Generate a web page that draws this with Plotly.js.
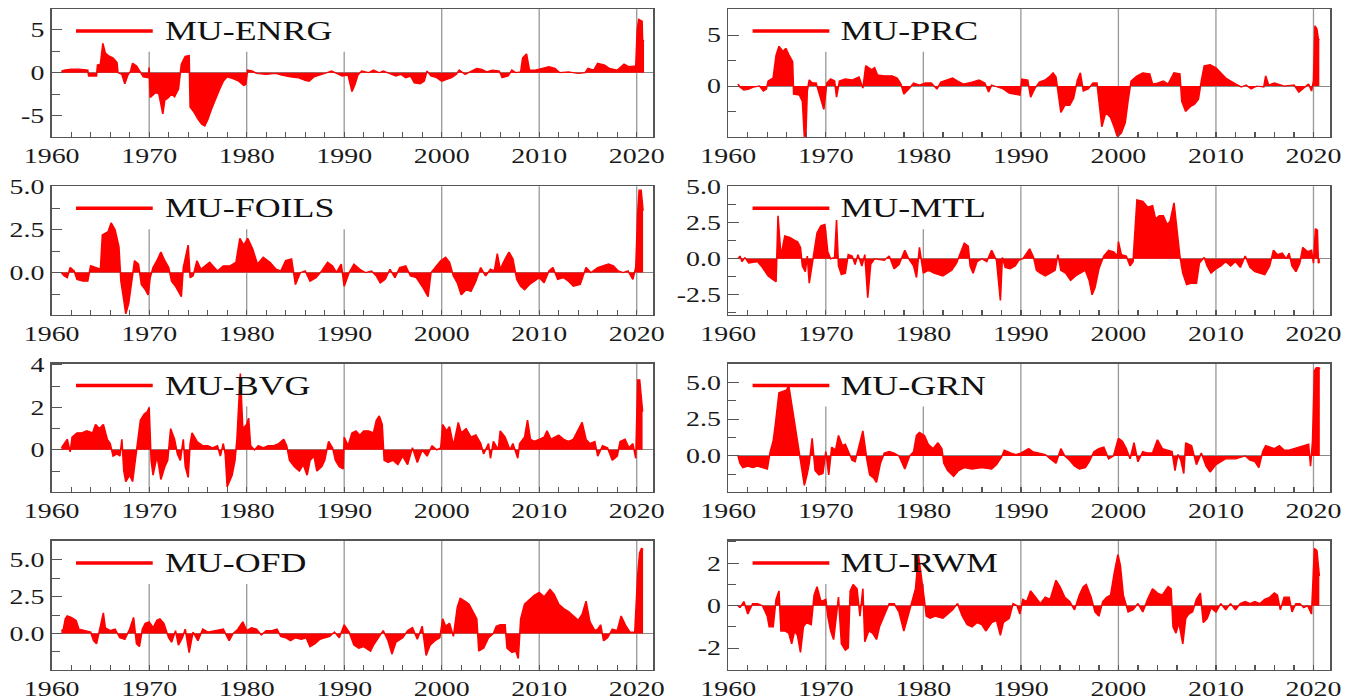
<!DOCTYPE html>
<html>
<head>
<meta charset="utf-8">
<script src="https://cdn.plot.ly/plotly-3.0.1.min.js"></script>
<style>
html,body{margin:0;padding:0;background:#fff;overflow:hidden;}
#wrap{width:1363px;height:700px;overflow:hidden;}
#plot{width:1025px;height:700px;transform:scaleX(1.3298);transform-origin:0 0;}
</style>
</head>
<body>
<div id="wrap"><div id="plot"></div></div>
<script>
// ---- data: [year, value] pairs ----
const enrg = [[1961.0,0.2],[1961.3,0.3],[1962.0,0.4],[1962.8,0.4],[1963.7,0.3],[1963.8,-0.4],[1964.6,-0.4],[1964.7,0.9],[1965.0,1.0],[1965.25,3.4],[1965.5,2.3],[1965.8,2.0],[1966.3,1.7],[1966.7,1.2],[1966.8,0.0],[1967.2,-0.2],[1967.5,-1.3],[1967.8,-0.3],[1968.1,0.2],[1968.3,1.1],[1968.7,0.8],[1969.0,0.3],[1969.4,-0.5],[1969.9,-0.6],[1970.0,0.6],[1970.1,-2.9],[1970.7,-2.3],[1971.0,-2.5],[1971.4,-4.8],[1971.6,-3.2],[1971.9,-3.0],[1972.3,-2.5],[1972.6,-2.8],[1973.0,-1.9],[1973.3,1.0],[1973.7,1.9],[1974.1,2.0],[1974.2,-4.0],[1974.6,-4.6],[1975.0,-5.4],[1975.4,-6.0],[1975.7,-6.2],[1976.0,-5.5],[1976.4,-4.2],[1976.8,-3.0],[1977.2,-2.0],[1977.6,-1.0],[1978.0,-0.5],[1978.6,-0.7],[1979.2,-1.0],[1979.7,-1.5],[1979.9,-1.4],[1980.1,0.3],[1980.6,0.2],[1981.0,-0.1],[1982.0,-0.2],[1983.0,-0.1],[1983.6,-0.3],[1984.5,-0.5],[1985.3,-0.6],[1986.0,-0.9],[1986.4,-1.0],[1986.9,-0.5],[1987.5,-0.3],[1988.0,-0.1],[1988.7,0.2],[1989.2,-0.1],[1989.8,-0.4],[1990.4,-0.3],[1990.8,-2.2],[1991.1,-1.4],[1991.4,-0.3],[1991.8,0.2],[1992.5,0.0],[1993.0,0.3],[1993.6,0.0],[1994.0,0.2],[1994.6,-0.1],[1995.3,-0.4],[1995.8,-0.2],[1996.3,-0.6],[1996.8,-0.4],[1997.2,-1.2],[1997.8,-1.3],[1998.2,-1.0],[1998.5,0.2],[1998.9,-0.4],[1999.5,-0.6],[2000.0,-1.0],[2000.5,-0.8],[2001.0,-0.6],[2001.5,-0.2],[2001.8,0.3],[2002.4,-0.2],[2003.0,0.2],[2003.6,0.5],[2004.1,0.4],[2004.6,0.1],[2005.2,0.3],[2005.9,0.2],[2006.2,-0.6],[2006.8,-0.4],[2007.2,0.3],[2007.6,0.0],[2008.1,0.1],[2008.3,1.7],[2008.7,2.2],[2009.0,0.3],[2009.6,0.3],[2010.3,0.5],[2011.0,0.7],[2011.6,0.5],[2012.1,0.0],[2013.0,0.1],[2014.0,-0.1],[2014.7,0.0],[2015.0,0.5],[2015.6,0.3],[2016.0,1.1],[2016.7,0.9],[2017.2,0.5],[2018.0,0.3],[2018.7,1.0],[2019.2,0.7],[2019.9,0.8],[2020.05,5.0],[2020.2,6.2],[2020.55,6.0],[2020.6,3.8],[2020.75,3.7]];

const prc = [[1961.0,0.2],[1961.2,-0.1],[1961.6,-0.4],[1962.1,-0.3],[1962.6,-0.1],[1963.2,0.0],[1963.6,-0.5],[1963.9,-0.3],[1964.1,0.5],[1964.6,0.8],[1964.9,3.0],[1965.2,3.9],[1965.6,3.4],[1965.9,3.7],[1966.2,3.1],[1966.6,2.4],[1966.7,-0.8],[1967.3,-0.9],[1967.6,-1.5],[1967.8,-5.0],[1967.95,-5.0],[1968.1,-0.5],[1968.3,0.6],[1968.6,0.3],[1969.0,0.3],[1969.3,-0.6],[1969.6,-1.6],[1969.8,-2.3],[1970.1,0.3],[1970.5,0.7],[1970.9,0.5],[1971.1,-1.1],[1971.4,0.5],[1972.0,0.7],[1972.7,0.6],[1973.4,0.9],[1973.8,-0.2],[1974.1,2.0],[1974.7,1.6],[1975.0,1.8],[1975.3,1.1],[1976.0,1.0],[1976.8,1.0],[1977.3,0.8],[1977.7,0.2],[1978.0,-0.8],[1978.5,-0.3],[1979.0,0.3],[1979.6,0.1],[1980.2,0.3],[1980.8,0.3],[1981.4,-0.3],[1981.8,0.4],[1982.4,0.6],[1983.0,0.8],[1983.5,0.5],[1984.1,0.2],[1985.0,0.4],[1985.7,0.6],[1986.3,0.3],[1986.7,-0.6],[1987.0,0.1],[1987.6,-0.1],[1988.2,-0.3],[1988.8,-0.7],[1989.4,-0.8],[1989.9,-0.9],[1990.1,0.7],[1990.7,0.6],[1991.0,-1.1],[1991.4,-0.3],[1991.9,0.4],[1992.5,0.6],[1993.0,1.0],[1993.3,1.3],[1993.6,0.9],[1993.8,-0.8],[1994.1,-2.6],[1994.5,-1.9],[1995.0,-1.9],[1995.4,-1.2],[1995.8,0.6],[1996.1,1.3],[1996.4,-0.5],[1996.9,-0.3],[1997.4,0.3],[1997.8,0.3],[1998.0,-1.2],[1998.3,-4.0],[1998.7,-2.6],[1999.2,-3.1],[1999.6,-4.1],[1999.9,-5.0],[2000.3,-4.6],[2000.7,-3.6],[2001.0,-1.4],[2001.3,0.5],[2001.9,1.0],[2002.5,1.3],[2003.2,1.2],[2003.5,0.2],[2004.0,0.3],[2004.6,0.5],[2005.1,0.2],[2005.7,1.3],[2006.3,1.2],[2006.5,-1.5],[2006.9,-2.5],[2007.4,-2.0],[2007.8,-1.8],[2008.2,-1.3],[2008.5,0.5],[2008.8,2.0],[2009.4,2.1],[2010.0,1.8],[2010.5,1.3],[2011.0,0.8],[2011.5,0.5],[2012.0,0.2],[2012.6,-0.1],[2013.1,0.1],[2013.6,-0.3],[2014.2,0.0],[2014.9,-0.1],[2015.1,1.0],[2015.4,0.1],[2016.0,0.3],[2017.0,0.0],[2018.0,0.1],[2018.5,-0.6],[2019.0,-0.2],[2019.5,0.2],[2019.8,-0.5],[2020.0,0.5],[2020.15,5.9],[2020.35,5.6],[2020.5,4.6],[2020.6,4.5]];

const foils = [[1961.0,0.0],[1961.3,-0.2],[1961.6,-0.3],[1961.9,0.3],[1962.3,0.1],[1962.6,-0.4],[1963.2,-0.5],[1963.7,-0.5],[1964.0,0.4],[1964.6,0.3],[1965.0,0.2],[1965.2,2.2],[1965.8,2.4],[1966.1,2.9],[1966.5,2.5],[1966.9,1.5],[1967.1,-0.5],[1967.4,-1.6],[1967.6,-2.4],[1967.9,-1.8],[1968.2,-0.6],[1968.5,0.7],[1968.9,0.5],[1969.2,-0.7],[1969.6,-1.0],[1969.9,-1.3],[1970.1,-0.3],[1970.4,0.3],[1970.8,0.7],[1971.2,1.2],[1971.6,0.7],[1972.0,0.3],[1972.3,-0.5],[1972.7,-0.8],[1973.3,-1.4],[1973.5,0.3],[1974.0,1.6],[1974.2,-0.3],[1974.5,-0.2],[1974.9,0.7],[1975.3,0.2],[1976.2,0.6],[1977.0,0.1],[1977.6,0.4],[1978.3,0.4],[1978.9,0.6],[1979.3,2.0],[1979.7,1.6],[1980.1,2.0],[1980.6,1.4],[1981.1,0.5],[1981.7,0.9],[1982.4,0.6],[1983.0,0.2],[1983.5,0.1],[1984.0,0.7],[1984.6,0.8],[1985.0,-0.7],[1985.5,0.0],[1986.0,0.1],[1986.5,-0.5],[1987.1,-0.3],[1987.7,0.1],[1988.3,0.6],[1988.8,0.4],[1989.2,0.0],[1989.7,0.5],[1990.0,-0.8],[1990.5,0.0],[1991.0,0.5],[1991.6,0.2],[1992.2,0.0],[1992.8,0.1],[1993.3,-0.2],[1993.7,-0.6],[1994.2,-0.4],[1994.7,0.2],[1995.2,-0.3],[1995.7,0.3],[1996.3,0.4],[1996.8,-0.2],[1997.4,-0.3],[1998.1,-0.9],[1998.6,-1.4],[1998.9,0.0],[1999.5,0.4],[1999.9,0.7],[2000.4,0.9],[2000.8,0.6],[2001.2,-0.2],[2001.6,-0.6],[2002.0,-1.3],[2002.5,-1.0],[2003.0,-1.1],[2003.5,-0.5],[2004.0,0.3],[2004.5,-0.2],[2005.0,0.2],[2005.4,0.1],[2005.7,1.1],[2006.0,0.2],[2006.5,0.8],[2006.9,1.2],[2007.3,0.8],[2007.7,-0.4],[2008.1,-0.8],[2008.5,-1.0],[2009.0,-0.7],[2009.5,-0.5],[2010.0,-0.3],[2010.5,-0.6],[2011.0,0.1],[2011.4,0.3],[2011.9,-0.4],[2012.5,-0.3],[2013.0,-0.5],[2013.5,-0.8],[2014.2,-0.7],[2014.8,0.3],[2015.3,0.0],[2016.0,0.3],[2016.6,0.4],[2017.1,0.5],[2017.6,0.4],[2018.1,0.1],[2018.6,0.0],[2019.1,0.1],[2019.6,-0.4],[2019.9,0.3],[2020.1,3.5],[2020.25,4.8],[2020.45,4.8],[2020.55,3.7],[2020.65,3.6]];

const mtl = [[1961.0,0.0],[1961.2,0.2],[1961.4,-0.2],[1961.7,0.1],[1962.1,-0.3],[1963.0,-0.2],[1963.5,-0.6],[1964.1,-1.2],[1964.5,-1.4],[1964.9,-1.6],[1965.1,3.0],[1965.4,0.2],[1965.8,1.6],[1966.3,1.5],[1966.8,1.3],[1967.1,1.2],[1967.4,0.8],[1967.6,-0.5],[1967.9,-0.9],[1968.1,0.2],[1968.3,-1.7],[1968.6,-0.5],[1968.8,0.5],[1969.1,1.8],[1969.5,2.3],[1969.9,2.4],[1970.2,0.5],[1970.5,0.0],[1970.9,0.1],[1971.1,2.7],[1971.3,-0.5],[1971.6,-1.1],[1972.0,-1.0],[1972.3,0.3],[1972.7,0.2],[1973.0,-0.4],[1973.3,0.3],[1973.7,-0.5],[1974.0,0.3],[1974.3,-2.7],[1974.6,-0.4],[1975.0,0.0],[1976.0,-0.1],[1976.5,0.2],[1977.0,-0.7],[1977.5,-0.4],[1978.1,0.6],[1978.5,0.0],[1979.0,-0.5],[1979.3,-1.3],[1979.6,0.8],[1980.0,-1.0],[1980.5,-0.8],[1981.1,-1.0],[1982.0,-1.2],[1982.9,-0.8],[1983.4,-0.3],[1983.9,0.5],[1984.2,1.1],[1984.6,0.9],[1984.8,-0.5],[1985.1,-1.0],[1985.5,-0.2],[1986.0,0.0],[1986.5,-0.2],[1987.0,0.6],[1987.5,-0.1],[1987.9,-2.9],[1988.1,0.1],[1988.4,-0.6],[1988.9,-0.7],[1989.4,-0.5],[1989.8,-0.1],[1990.2,0.0],[1990.6,0.4],[1990.9,0.7],[1991.3,0.1],[1991.6,-0.8],[1992.0,-1.0],[1992.5,-1.2],[1993.0,-1.0],[1993.5,-0.8],[1993.8,0.3],[1994.1,-0.8],[1994.6,-1.0],[1995.1,-1.5],[1995.6,-1.2],[1996.1,-1.0],[1996.6,-0.8],[1997.0,-1.5],[1997.3,-2.5],[1997.6,-2.0],[1998.0,-0.7],[1998.5,0.2],[1999.0,0.6],[1999.5,0.5],[1999.9,0.2],[2000.0,1.2],[2000.3,0.3],[2000.8,0.2],[2001.2,-0.5],[2001.5,-0.2],[2001.7,2.0],[2001.9,4.1],[2002.5,4.0],[2003.0,3.6],[2003.5,3.7],[2003.8,2.8],[2004.2,3.0],[2004.6,3.0],[2005.0,2.4],[2005.3,2.6],[2005.7,3.9],[2006.0,2.0],[2006.3,0.2],[2006.6,-1.0],[2007.0,-1.8],[2007.5,-1.7],[2008.0,-1.7],[2008.3,-0.3],[2008.8,0.1],[2009.1,-0.5],[2009.5,-1.0],[2010.0,-0.7],[2010.5,-0.5],[2011.0,-0.2],[2011.5,-0.5],[2012.0,-0.2],[2012.5,-0.6],[2013.0,0.2],[2013.5,-0.6],[2014.0,-0.9],[2014.5,-1.0],[2015.0,-1.1],[2015.5,-0.5],[2015.9,0.6],[2016.3,0.3],[2016.8,0.4],[2017.2,0.0],[2017.5,0.4],[2017.8,-0.5],[2018.2,-0.9],[2018.6,-0.3],[2018.9,0.8],[2019.4,0.5],[2019.8,0.6],[2020.0,-0.3],[2020.2,2.1],[2020.4,2.0],[2020.5,-0.3],[2020.65,-0.2]];

const bvg = [[1961.0,0.1],[1961.3,0.3],[1961.6,0.5],[1961.9,-0.1],[1962.1,0.6],[1962.6,0.8],[1963.1,0.8],[1963.6,0.9],[1964.2,0.8],[1964.5,1.2],[1964.9,1.0],[1965.3,1.2],[1965.7,0.5],[1966.0,0.3],[1966.3,-0.3],[1966.7,-0.2],[1967.0,-0.3],[1967.2,0.5],[1967.4,-1.0],[1967.6,-1.5],[1968.0,-1.2],[1968.3,-1.5],[1968.6,-0.5],[1968.8,0.5],[1969.1,1.4],[1969.5,1.7],[1969.8,1.8],[1970.0,2.0],[1970.2,-0.5],[1970.4,-1.2],[1970.8,-0.3],[1971.0,-0.8],[1971.2,-1.4],[1971.6,-0.8],[1971.9,-0.5],[1972.2,1.0],[1972.6,0.5],[1972.9,-0.2],[1973.2,-0.5],[1973.5,0.5],[1973.7,-0.8],[1974.0,-1.3],[1974.2,0.3],[1974.4,0.8],[1974.9,0.4],[1975.5,0.2],[1976.0,0.2],[1976.5,0.1],[1977.0,0.2],[1977.3,-0.3],[1977.6,0.3],[1977.8,-0.2],[1978.0,-1.75],[1978.5,-1.2],[1978.8,-0.5],[1979.0,0.5],[1979.2,2.0],[1979.35,3.6],[1979.6,1.0],[1980.0,1.2],[1980.2,1.5],[1980.4,0.2],[1980.8,0.0],[1981.2,0.2],[1981.7,0.1],[1982.2,0.2],[1982.8,0.2],[1983.3,0.3],[1983.8,0.5],[1984.1,0.2],[1984.4,-0.5],[1984.9,-0.8],[1985.4,-1.0],[1985.8,-0.7],[1986.2,-1.2],[1986.5,-0.5],[1986.9,-0.3],[1987.2,-1.0],[1987.7,-0.8],[1988.0,-0.5],[1988.4,0.4],[1988.8,0.1],[1989.1,-0.5],[1989.5,-0.8],[1989.9,-0.9],[1990.0,0.6],[1990.4,0.2],[1990.8,0.8],[1991.2,0.9],[1991.6,0.7],[1992.0,0.9],[1992.5,0.9],[1993.0,0.8],[1993.3,1.4],[1993.6,1.6],[1993.9,1.2],[1994.1,-0.5],[1994.5,-0.6],[1995.0,-0.5],[1995.5,-0.7],[1996.0,-0.3],[1996.5,-0.7],[1997.0,0.1],[1997.5,-0.6],[1998.0,0.0],[1998.5,-0.3],[1999.0,0.2],[1999.5,0.0],[1999.9,0.1],[2000.1,1.2],[2000.5,0.9],[2000.8,1.1],[2001.2,0.2],[2001.7,1.3],[2002.0,0.8],[2002.5,1.0],[2003.0,0.6],[2003.5,0.7],[2004.0,0.3],[2004.3,-0.2],[2004.8,0.3],[2005.0,-0.4],[2005.3,0.4],[2005.8,0.0],[2006.0,0.9],[2006.5,0.6],[2007.0,0.0],[2007.3,0.3],[2007.8,-0.4],[2008.0,0.3],[2008.5,0.6],[2008.8,1.4],[2009.1,0.5],[2009.5,0.4],[2010.0,0.5],[2010.5,0.6],[2010.8,0.9],[2011.2,0.5],[2011.6,0.6],[2012.0,0.7],[2012.5,0.5],[2013.0,0.4],[2013.5,0.5],[2014.1,1.0],[2014.4,1.3],[2014.8,0.5],[2015.2,0.3],[2015.7,0.4],[2016.0,-0.3],[2016.5,0.2],[2017.0,0.1],[2017.5,-0.5],[2018.0,-0.3],[2018.3,0.4],[2018.8,0.5],[2019.2,0.1],[2019.6,0.3],[2019.9,-0.4],[2020.1,3.3],[2020.3,3.3],[2020.45,2.4],[2020.6,1.8]];

const grn = [[1961.0,0.0],[1961.2,-0.5],[1961.5,-0.8],[1962.0,-0.7],[1962.5,-0.8],[1963.0,-0.7],[1963.5,-0.8],[1964.0,-0.9],[1964.3,0.3],[1964.6,1.0],[1964.8,2.0],[1965.2,4.3],[1965.6,4.4],[1966.0,4.5],[1966.2,4.8],[1966.5,3.5],[1966.8,2.5],[1967.1,1.0],[1967.4,-0.3],[1967.8,-2.0],[1968.1,-1.2],[1968.3,-0.5],[1968.6,1.2],[1968.9,-1.0],[1969.3,-1.3],[1969.7,-1.2],[1970.0,0.3],[1970.3,-1.3],[1970.6,0.6],[1971.0,0.4],[1971.3,1.4],[1971.7,0.7],[1972.0,0.8],[1972.3,0.3],[1972.7,-0.3],[1973.0,-0.4],[1973.4,0.8],[1973.8,1.7],[1974.2,-0.2],[1974.5,-1.3],[1974.9,-1.5],[1975.2,-1.8],[1975.6,-0.5],[1976.0,0.2],[1976.5,0.3],[1977.0,0.2],[1977.5,0.0],[1977.8,-0.5],[1978.1,-0.9],[1978.6,0.0],[1979.0,0.3],[1979.3,1.4],[1979.6,1.6],[1980.1,1.4],[1980.5,0.8],[1981.0,0.5],[1981.5,0.9],[1981.9,0.5],[1982.1,-0.5],[1982.5,-1.0],[1983.1,-1.4],[1983.6,-1.0],[1984.2,-0.8],[1985.0,-0.9],[1986.0,-0.8],[1987.0,-0.9],[1987.5,-0.6],[1988.0,-0.1],[1988.3,0.4],[1989.0,0.2],[1989.5,0.1],[1990.0,0.2],[1990.8,0.5],[1991.2,0.3],[1992.0,0.2],[1992.5,0.1],[1993.0,-0.2],[1993.6,-0.5],[1994.1,0.5],[1994.5,0.0],[1995.0,-0.3],[1995.5,-0.7],[1996.0,-0.9],[1996.6,-0.8],[1997.0,-0.4],[1997.5,0.3],[1998.0,0.5],[1998.5,0.6],[1999.0,-0.2],[1999.5,0.0],[2000.0,1.2],[2000.4,1.0],[2000.8,0.5],[2001.2,-0.2],[2001.6,0.9],[2002.0,-0.4],[2002.5,0.3],[2003.0,0.2],[2003.5,0.2],[2004.0,1.1],[2004.5,0.5],[2005.0,0.4],[2005.5,0.3],[2005.8,-1.0],[2006.1,0.1],[2006.4,-0.3],[2006.7,-1.2],[2006.9,0.9],[2007.5,0.7],[2008.0,-0.6],[2008.5,0.2],[2009.0,-0.7],[2009.4,-1.1],[2010.0,-0.6],[2010.5,-0.4],[2011.0,-0.2],[2012.0,-0.2],[2013.0,0.0],[2013.5,-0.3],[2014.0,-0.4],[2014.4,-0.8],[2014.8,0.3],[2015.1,0.7],[2015.5,0.6],[2016.0,0.5],[2016.5,0.7],[2017.0,0.4],[2017.5,0.4],[2018.0,0.5],[2018.5,0.6],[2019.0,0.7],[2019.5,0.8],[2019.7,-0.7],[2019.9,1.0],[2020.1,5.8],[2020.3,6.0],[2020.55,6.0],[2020.65,5.9]];

const ofd = [[1961.0,0.2],[1961.2,0.3],[1961.4,1.0],[1961.6,1.2],[1962.0,1.1],[1962.5,0.9],[1962.8,0.3],[1963.5,0.2],[1964.0,0.1],[1964.3,-0.5],[1964.6,-0.7],[1964.9,0.2],[1965.3,1.4],[1965.5,0.4],[1966.0,0.2],[1966.5,0.3],[1967.0,-0.3],[1967.5,-0.4],[1968.0,0.3],[1968.4,1.1],[1968.7,-0.7],[1969.0,-0.9],[1969.3,0.3],[1969.6,0.7],[1970.0,0.8],[1970.4,0.4],[1970.8,0.9],[1971.1,1.0],[1971.5,0.7],[1972.0,-0.3],[1972.3,-0.6],[1972.7,0.2],[1973.0,-0.8],[1973.4,-0.3],[1973.7,0.3],[1974.1,-1.3],[1974.5,0.1],[1975.0,-0.5],[1975.5,0.3],[1976.0,0.1],[1977.0,0.2],[1977.6,0.3],[1978.2,-0.5],[1978.6,0.0],[1979.1,0.3],[1979.6,0.8],[1980.0,0.2],[1980.5,0.4],[1981.0,0.3],[1981.5,-0.1],[1982.0,0.2],[1982.6,0.2],[1983.1,0.3],[1983.5,-0.2],[1984.0,-0.3],[1984.5,-0.5],[1985.0,-0.3],[1985.6,-0.4],[1986.1,-0.3],[1986.5,-0.9],[1987.0,-0.7],[1987.5,-0.4],[1988.0,-0.3],[1988.5,-0.2],[1989.0,0.1],[1989.5,-0.3],[1990.0,0.6],[1990.5,0.1],[1991.0,-0.8],[1991.5,-1.0],[1992.0,-0.9],[1992.7,-1.2],[1993.0,-0.8],[1993.5,-0.3],[1994.0,0.2],[1994.5,-0.5],[1994.9,-1.4],[1995.3,-0.6],[1996.0,-0.3],[1996.5,0.2],[1997.0,0.4],[1997.5,-0.4],[1998.0,0.5],[1998.4,-1.5],[1998.8,-0.8],[1999.3,-0.5],[1999.8,-0.3],[2000.1,1.0],[2000.4,0.5],[2000.8,0.7],[2001.2,-0.2],[2001.6,1.8],[2001.9,2.4],[2002.4,2.2],[2002.8,2.0],[2003.2,1.5],[2003.6,1.0],[2003.8,-1.2],[2004.3,-1.0],[2004.8,-0.3],[2005.3,0.0],[2005.6,0.5],[2006.0,0.6],[2006.5,0.6],[2006.7,-1.0],[2007.2,-1.3],[2007.6,-1.2],[2007.85,-1.7],[2008.1,1.0],[2008.5,2.0],[2009.0,2.3],[2009.5,2.6],[2010.0,2.8],[2010.5,2.5],[2011.1,3.0],[2011.5,2.7],[2012.0,2.0],[2012.5,1.7],[2013.0,1.5],[2013.5,1.2],[2014.0,0.9],[2014.4,1.3],[2014.8,2.2],[2015.2,0.8],[2015.7,0.2],[2016.0,0.3],[2016.3,0.6],[2016.6,-0.5],[2017.0,-0.3],[2017.5,0.3],[2018.0,0.2],[2018.4,1.2],[2018.9,0.5],[2019.3,0.1],[2019.8,0.1],[2020.1,4.0],[2020.3,5.5],[2020.5,5.8],[2020.65,5.7]];

const rwm = [[1961.0,0.0],[1961.2,-0.1],[1961.6,0.2],[1962.0,-0.4],[1962.5,0.1],[1963.0,0.1],[1963.5,0.0],[1964.0,-0.5],[1964.2,-1.0],[1964.6,-1.0],[1964.9,0.3],[1965.2,0.7],[1965.4,-1.2],[1965.8,-1.2],[1966.2,-1.3],[1966.5,-1.8],[1966.8,-1.2],[1967.1,-1.4],[1967.4,-2.2],[1967.7,-1.0],[1968.0,-0.8],[1968.5,-0.9],[1968.8,0.5],[1969.1,0.9],[1969.5,0.2],[1970.0,0.3],[1970.2,-0.5],[1970.5,-1.2],[1970.8,-1.6],[1971.1,-0.5],[1971.3,0.4],[1971.6,-1.8],[1972.0,-2.1],[1972.3,-2.0],[1972.5,0.7],[1972.8,1.0],[1973.2,0.8],[1973.5,-0.5],[1973.8,0.8],[1974.0,-1.7],[1974.4,-1.2],[1974.8,-1.3],[1975.2,-1.6],[1975.5,-1.0],[1976.0,-0.5],[1976.5,0.1],[1977.0,0.1],[1977.5,-0.3],[1978.0,-1.2],[1978.4,-0.5],[1978.8,0.2],[1979.2,0.8],[1979.5,2.4],[1979.8,1.5],[1980.1,0.3],[1980.3,-0.5],[1980.7,-0.6],[1981.2,-0.5],[1982.0,-0.6],[1982.5,-0.4],[1983.0,-0.2],[1983.5,0.1],[1984.0,-0.5],[1984.5,-0.9],[1985.0,-1.0],[1985.5,-0.8],[1986.0,-0.9],[1986.4,-1.2],[1987.0,-0.8],[1987.5,-0.7],[1987.9,-1.4],[1988.2,-0.8],[1988.8,-0.6],[1989.2,0.1],[1989.6,0.0],[1989.9,-0.4],[1990.2,0.3],[1990.6,0.2],[1991.0,0.7],[1991.5,0.4],[1992.0,0.1],[1992.5,0.4],[1993.0,0.3],[1993.6,1.2],[1994.0,0.9],[1994.5,0.4],[1995.0,0.2],[1995.5,-0.2],[1996.0,0.5],[1996.4,0.9],[1996.7,1.0],[1997.2,0.4],[1997.6,-0.3],[1998.0,-0.5],[1998.4,0.2],[1998.8,0.4],[1999.2,0.5],[1999.6,1.6],[1999.95,2.4],[2000.2,1.9],[2000.5,0.5],[2001.0,-0.3],[2001.5,-0.2],[2002.0,0.1],[2002.5,-0.3],[2003.0,0.3],[2003.5,0.8],[2004.0,0.6],[2004.5,0.5],[2005.1,0.9],[2005.4,0.8],[2005.6,-1.0],[2005.9,-1.3],[2006.2,-0.8],[2006.6,-1.8],[2006.9,-0.6],[2007.2,-0.4],[2007.6,-0.3],[2008.0,0.3],[2008.4,0.6],[2008.7,-0.8],[2009.1,-0.6],[2009.5,-0.1],[2010.0,-0.3],[2010.5,0.1],[2011.0,-0.2],[2011.5,0.1],[2012.0,-0.2],[2012.5,0.1],[2013.0,0.2],[2013.5,0.1],[2014.0,0.2],[2014.5,0.1],[2015.0,0.3],[2015.5,0.4],[2016.0,0.6],[2016.3,0.5],[2016.6,-0.2],[2017.0,0.4],[2017.5,0.4],[2017.8,-0.3],[2018.2,0.1],[2018.6,0.1],[2019.0,-0.1],[2019.4,0.0],[2019.8,-0.4],[2020.1,2.7],[2020.35,2.6],[2020.5,1.5],[2020.6,1.4]];

const seriesNames = ['MU-ENRG','MU-PRC','MU-FOILS','MU-MTL','MU-BVG','MU-GRN','MU-OFD','MU-RWM'];
const seriesData = [enrg, prc, foils, mtl, bvg, grn, ofd, rwm];

const xTickVals = [1960,1970,1980,1990,2000,2010,2020];
const xTickText = ['1960','1970','1980','1990','2000','2010','2020'];
const gridYears = [1970,1980,1990,2000,2010,2020];

const yTickVals = [[-5,0,5],[0,5],[0,2.5,5],[-2.5,0,2.5,5],[0,2,4],[0,2.5,5],[0,2.5,5],[-2,0,2]];
const yTickText = [['-5','0','5'],['0','5'],['0.0','2.5','5.0'],['-2.5','0.0','2.5','5.0'],['0','2','4'],['0.0','2.5','5.0'],['0.0','2.5','5.0'],['-2','0','2']];

// ---- styling / layout ----
const X0 = 1960, X1 = 2021.7;
const yRanges = [[-7.45,7.4],[-4.97,7.55],[-2.44,5.03],[-3.87,5.05],[-1.98,4.07],[-2.44,6.28],[-2.48,6.31],[-3.03,3.06]];
const yMinor = [2.5,2.5,1.25,1.25,1,1.25,1.25,1];
const boxW = [0.50,0.45,0.50,0.45,0.45,0.45,0.45,0.47];
const boxBottom = 0.665;

const colDom = [[0.0379,0.4793],[0.5343,0.9758]];
const rowDom = [[0.8047,0.9871],[0.5507,0.734],[0.2974,0.4807],[0.0429,0.2276]];

const FONT = "'Liberation Serif','Times New Roman',serif";
const FRAME = '#555555';

const traces = [];
const layout = {
  width:1025, height:700,
  margin:{l:0,r:0,t:0,b:0},
  paper_bgcolor:'#ffffff', plot_bgcolor:'#ffffff',
  showlegend:false,
  font:{family:FONT, size:21, color:'#1a1a1a'},
  shapes:[], annotations:[]
};

for (let i=0;i<8;i++){
  const n = i+1;
  const xa = n===1 ? 'x' : 'x'+n;
  const ya = n===1 ? 'y' : 'y'+n;
  const col = i%2, row = Math.floor(i/2);
  const pts = seriesData[i];
  traces.push({
    type:'scatter', mode:'lines',
    x: pts.map(p=>p[0]), y: pts.map(p=>p[1]),
    xaxis:xa, yaxis:ya,
    fill:'tozeroy', fillcolor:'#ff0000',
    line:{color:'#ff0000', width:1.2},
    hoverinfo:'skip', name:seriesNames[i]
  });
  const xkey = n===1 ? 'xaxis' : 'xaxis'+n;
  const ykey = n===1 ? 'yaxis' : 'yaxis'+n;
  layout[xkey] = {
    domain:colDom[col], anchor:ya, range:[X0,X1],
    tickmode:'array', tickvals:xTickVals, ticktext:xTickText,
    ticks:'inside', ticklen:5, tickcolor:FRAME, tickwidth:1,
    showgrid:false,
    zeroline:false, showline:true, linecolor:FRAME, linewidth:1.3, mirror:true,
    minor:{dtick:2, tick0:1960, ticks:'inside', ticklen:5, tickcolor:FRAME, showgrid:false},
    tickfont:{family:FONT, size:21, color:'#1a1a1a'},
    fixedrange:true
  };
  layout[ykey] = {
    domain:rowDom[row], anchor:xa, range:yRanges[i],
    tickmode:'array', tickvals:yTickVals[i], ticktext:yTickText[i],
    ticks:'inside', ticklen:8, tickcolor:FRAME, tickwidth:1,
    showgrid:false,
    zeroline:true, zerolinecolor:'#8a8a8a', zerolinewidth:1,
    showline:true, linecolor:FRAME, linewidth:1.3, mirror:true,
    minor:{dtick:yMinor[i], tick0:0, ticks:'inside', ticklen:6, tickcolor:FRAME, showgrid:false},
    tickfont:{family:FONT, size:21, color:'#1a1a1a'},
    fixedrange:true
  };
  // decade gridlines, stopping under the legend box
  gridYears.forEach(g=>{
    const frac = (g - X0)/(X1 - X0);
    layout.shapes.push({type:'line', layer:'below', xref:xa, yref:ya+' domain',
      x0:g, x1:g, y0:0, y1:(frac < boxW[i] ? boxBottom : 1),
      line:{color:'#9a9a9a', width:1}});
  });
  // legend line sample
  layout.shapes.push({type:'line', layer:'above', xref:xa+' domain', yref:ya+' domain',
    x0:0.0404, x1:0.168, y0:0.828, y1:0.828, line:{color:'#ff0000', width:3.5}});
  layout.annotations.push({xref:xa+' domain', yref:ya+' domain', x:0.183, y:0.828,
    xanchor:'left', yanchor:'middle', showarrow:false, text:seriesNames[i],
    font:{family:FONT, size:27, color:'#111111'}});
}

Plotly.newPlot('plot', traces, layout, {staticPlot:true, displayModeBar:false});
</script>
</body>
</html>
